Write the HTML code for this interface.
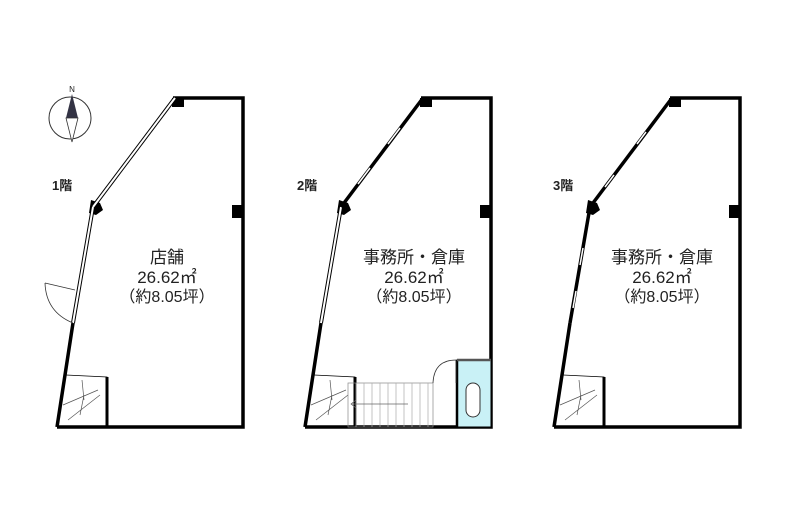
<!DOCTYPE html>
<html><head><meta charset="utf-8"><style>
html,body{margin:0;padding:0;background:#fff;}
svg{display:block;}
text{font-family:"Liberation Sans","Noto Sans CJK JP",sans-serif;fill:#222;}
</style></head><body>
<svg width="787" height="516" viewBox="0 0 787 516" xmlns="http://www.w3.org/2000/svg">
<defs>
<g id="base">
  <path d="M173,98 L243,98 L243,427 L57,427" fill="none" stroke="#000" stroke-width="3.5"/>
  <line x1="57" y1="427" x2="73" y2="323" stroke="#000" stroke-width="3.5"/>
  <rect x="172" y="98" width="12" height="9" fill="#000"/>
  <polygon points="91,200 100,203 103,210 96,215 89,213" fill="#000"/>
  <rect x="232" y="205" width="10" height="13" fill="#000"/>
</g>
<g id="winL">
  <line x1="73" y1="323" x2="93" y2="207" stroke="#000" stroke-width="4"/>
  <line x1="73" y1="323" x2="93" y2="207" stroke="#fff" stroke-width="2"/>
</g>
<g id="winD">
  <line x1="93" y1="207" x2="175" y2="98" stroke="#000" stroke-width="4"/>
  <line x1="93" y1="207" x2="175" y2="98" stroke="#fff" stroke-width="2"/>
</g>
<g id="wallL">
  <line x1="73" y1="323" x2="93" y2="207" stroke="#000" stroke-width="3.5"/>
</g>
<g id="wallD">
  <line x1="93" y1="207" x2="175" y2="98" stroke="#000" stroke-width="3.5"/>
</g>
<g id="stairbox">
  <path d="M66,375 L107,377 L107,427" fill="none" stroke="#000" stroke-width="0.8"/>
  <line x1="107" y1="377" x2="107" y2="427" stroke="#000" stroke-width="3"/>
  <path d="M63,405 L98,390 M68,420 L100,395 M84,395 L80,415 M82,380 L84,400" fill="none" stroke="#555" stroke-width="0.7"/>
</g>
</defs>

<circle cx="70" cy="118" r="21" fill="none" stroke="#333" stroke-width="1"/>
<polygon points="72,94 66,118 78,118" fill="#334"/>
<polygon points="72,142 66,118 78,118" fill="#fff" stroke="#333" stroke-width="0.8"/>
<text x="72" y="92" font-size="8" text-anchor="middle">N</text>

<!-- Plan 1 -->
<use href="#base"/><use href="#winL"/><use href="#winD"/>
<use href="#stairbox"/>
<path d="M45,283 L75,290 M45,283 Q46,312 73,323" fill="none" stroke="#333" stroke-width="0.8"/>
<text x="52" y="190" font-size="13" font-weight="bold">1階</text>
<text x="167" y="263" font-size="17" text-anchor="middle">店舗</text>
<text x="167" y="283" font-size="17" text-anchor="middle">26.62㎡</text>
<text x="167" y="302" font-size="16" text-anchor="middle">（約8.05坪）</text>

<!-- Plan 2 -->
<g transform="translate(248,0)">
  <use href="#base"/><use href="#winL"/><use href="#wallD"/>
  <line x1="110" y1="184" x2="122" y2="168" stroke="#fff" stroke-width="1.5"/>
  <line x1="140" y1="144" x2="152" y2="128" stroke="#fff" stroke-width="1.5"/>
  <use href="#stairbox"/>
  <rect x="100" y="383" width="85" height="44" fill="none" stroke="#888" stroke-width="0.7"/>
  <path d="M108,383V427M116,383V427M124,383V427M132,383V427M140,383V427M148,383V427M156,383V427M164,383V427M172,383V427M180,383V427" stroke="#aaa" stroke-width="0.7"/>
  <path d="M160,404 L103,404 M108,400 L103,404 L108,408" fill="none" stroke="#666" stroke-width="0.7"/>
  <rect x="209" y="360" width="34" height="67" fill="#c9f1f6" stroke="#000" stroke-width="1"/>
  <line x1="209" y1="360" x2="209" y2="427" stroke="#000" stroke-width="2.5"/>
  <line x1="209" y1="360" x2="243" y2="360" stroke="#555" stroke-width="2.5"/>
  <rect x="218" y="383" width="14" height="34" rx="7" fill="#fff" stroke="#333" stroke-width="1"/>
  <path d="M185,383 Q186,360 208,360 L208,383" fill="none" stroke="#333" stroke-width="0.8"/>
</g>
<text x="297" y="190" font-size="13" font-weight="bold">2階</text>
<text x="414" y="263" font-size="17" text-anchor="middle">事務所・倉庫</text>
<text x="414" y="283" font-size="17" text-anchor="middle">26.62㎡</text>
<text x="414" y="302" font-size="16" text-anchor="middle">（約8.05坪）</text>

<!-- Plan 3 -->
<g transform="translate(497,0)">
  <use href="#base"/><use href="#wallL"/><use href="#wallD"/>
  <line x1="83" y1="265" x2="86" y2="248" stroke="#fff" stroke-width="1.5"/>
  <line x1="76" y1="308" x2="79" y2="291" stroke="#fff" stroke-width="1.5"/>
  <line x1="108" y1="187" x2="117" y2="175" stroke="#fff" stroke-width="1.5"/>
  <line x1="140" y1="144" x2="149" y2="132" stroke="#fff" stroke-width="1.5"/>
  <use href="#stairbox"/>
</g>
<text x="553" y="190" font-size="13" font-weight="bold">3階</text>
<text x="662" y="263" font-size="17" text-anchor="middle">事務所・倉庫</text>
<text x="662" y="283" font-size="17" text-anchor="middle">26.62㎡</text>
<text x="662" y="302" font-size="16" text-anchor="middle">（約8.05坪）</text>
</svg>
</body></html>
